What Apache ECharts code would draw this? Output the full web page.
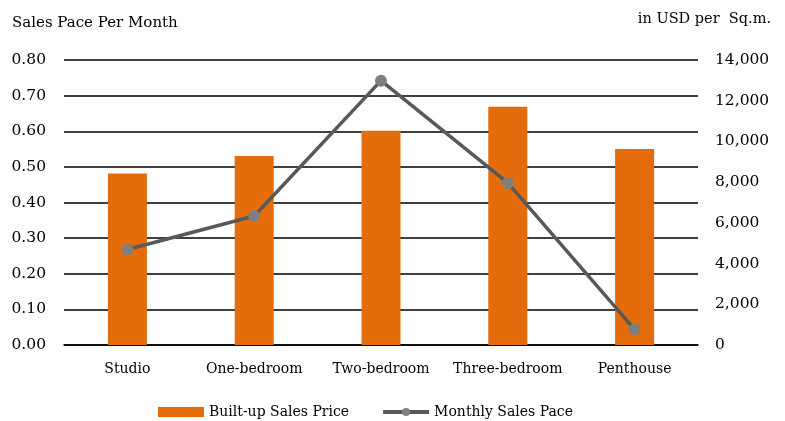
<!DOCTYPE html>
<html>
<head>
<meta charset="utf-8">
<script src="https://cdn.jsdelivr.net/npm/echarts@6/dist/echarts.min.js"></script>
<style>
  html, body { margin: 0; padding: 0; background: #fff; }
  #chart { width: 785px; height: 421px; }
</style>
</head>
<body>
<div id="chart"></div>
<script>
const categories = ['Studio', 'One-bedroom', 'Two-bedroom', 'Three-bedroom', 'Penthouse']
// bars: built-up sales price, right axis (USD per sq.m.)
const salesPrice = [8430, 9280, 10530, 11700, 9630]
// line: monthly sales pace, left axis
const salesPace = [0.268, 0.362, 0.742, 0.455, 0.044]

const font = 'DejaVu Serif'
const chart = echarts.init(document.getElementById('chart'))
chart.setOption({
  backgroundColor: '#fff',
  animation: false,
  textStyle: { fontFamily: font },
  grid: { left: 64, right: 87, top: 60, bottom: 76 },
  graphic: [
    {
      type: 'text',
      left: 12,
      top: 16,
      style: { text: 'Sales Pace Per Month', font: '15px "DejaVu Serif"', fill: '#000' },
    },
    {
      type: 'text',
      right: 14,
      top: 12,
      style: { text: 'in USD per  Sq.m.', font: '14.5px "DejaVu Serif"', fill: '#000' },
    },
  ],
  legend: {
    top: 400,
    left: 153,
    itemGap: 32,
    itemWidth: 46,
    itemHeight: 10,
    textStyle: { color: '#000', fontSize: 14, fontFamily: font },
    data: [
      { name: 'Built-up Sales Price', icon: 'rect' },
      {
        name: 'Monthly Sales Pace',
        itemStyle: { color: '#7F7F7F' },
        lineStyle: { color: '#595959', width: 4 },
      },
    ],
  },
  xAxis: {
    type: 'category',
    data: categories,
    axisTick: { show: false },
    axisLine: { lineStyle: { color: '#000', width: 1.5 } },
    axisLabel: { color: '#000', fontSize: 14, margin: 17, interval: 0 },
  },
  yAxis: [
    {
      type: 'value',
      min: 0,
      max: 0.8,
      interval: 0.1,
      axisLine: { show: false },
      axisTick: { show: false },
      splitLine: { lineStyle: { color: '#000', width: 1.5 } },
      axisLabel: { color: '#000', fontSize: 15.5, margin: 18, formatter: v => v.toFixed(2) },
    },
    {
      type: 'value',
      min: 0,
      max: 14000,
      interval: 2000,
      position: 'right',
      axisLine: { show: false },
      axisTick: { show: false },
      splitLine: { show: false },
      axisLabel: {
        color: '#000',
        fontSize: 15.5,
        margin: 17,
        formatter: v => v.toLocaleString('en-US'),
      },
    },
  ],
  series: [
    {
      name: 'Built-up Sales Price',
      type: 'bar',
      yAxisIndex: 1,
      barWidth: 39,
      itemStyle: { color: '#E46C0A' },
      data: salesPrice,
    },
    {
      name: 'Monthly Sales Pace',
      type: 'line',
      yAxisIndex: 0,
      symbol: 'circle',
      symbolSize: 12,
      lineStyle: { color: '#595959', width: 3.5 },
      itemStyle: { color: '#7F7F7F' },
      data: salesPace,
    },
  ],
})
</script>
</body>
</html>
